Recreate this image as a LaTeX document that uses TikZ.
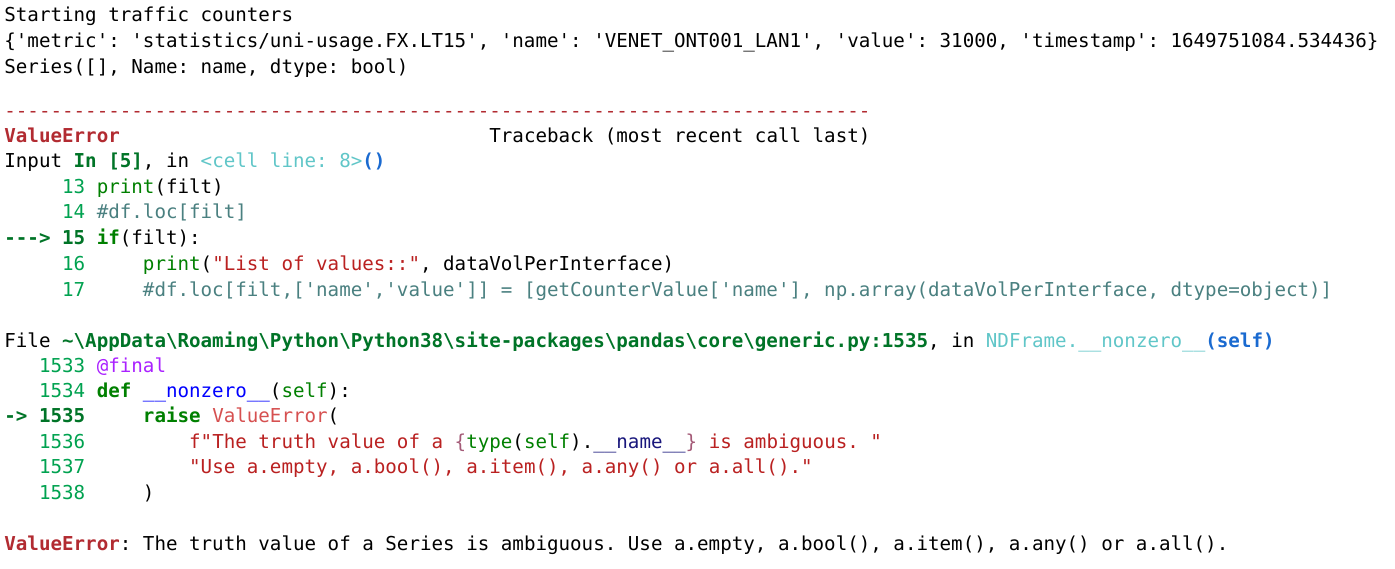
\documentclass[tikz,border=0pt]{standalone}
\usepackage{fontspec}
\setmonofont{DejaVu Sans Mono}
\usepackage{xcolor}
\usepackage{tikz}

\definecolor{errred}{HTML}{B22B31}
\definecolor{numgreen}{HTML}{00A250}
\definecolor{curgreen}{HTML}{007427}
\definecolor{kwgreen}{HTML}{008000}
\definecolor{cmtgray}{HTML}{4A8080}
\definecolor{strred}{HTML}{BA2121}
\definecolor{cellcyan}{HTML}{60C6C8}
\definecolor{callblue}{HTML}{1A6AD0}
\definecolor{fnblue}{HTML}{0000FF}
\definecolor{magicblue}{HTML}{19177C}
\definecolor{decopurple}{HTML}{AA22FF}
\definecolor{excred}{HTML}{D65050}
\definecolor{interp}{HTML}{A45A77}

\newcommand\sk[1]{\hspace*{#1\fontcharwd\font`x}}
\newcommand\er[1]{\textcolor{errred}{\bfseries #1}}
\newcommand\cg[1]{\textcolor{curgreen}{\bfseries #1}}
\newcommand\lnum[1]{\textcolor{numgreen}{#1}}
\newcommand\kw[1]{\textcolor{kwgreen}{\bfseries #1}}
\newcommand\bi[1]{\textcolor{kwgreen}{#1}}
\newcommand\cmt[1]{\textcolor{cmtgray}{#1}}
\newcommand\strg[1]{\textcolor{strred}{#1}}
\newcommand\cyn[1]{\textcolor{cellcyan}{#1}}
\newcommand\blu[1]{\textcolor{callblue}{\bfseries #1}}

\begin{document}
\begin{tikzpicture}[x=0.5pt, y=-0.5pt,
    txt/.style={anchor=base west, inner sep=0pt, font=\ttfamily\fontsize{9.59}{11}\selectfont}]
    \useasboundingbox [fill=white] (0,0) rectangle (1395,568);

    % printed output
    \node (start) [txt] at (4,21) {Starting traffic counters};
    \node (dict) [txt] at (4,47) {\{'metric': 'statistics/uni-usage.FX.LT15', 'name': 'VENET\_ONT001\_LAN1', 'value': 31000, 'timestamp': 1649751084.534436\}};
    \node (series) [txt] at (4,73) {Series([], Name: name, dtype: bool)};

    % traceback
    \node (rule) [txt] at (4,117) {\textcolor{errred}{---------------------------------------------------------------------------}};
    \node (head) [txt] at (4,142) {\er{ValueError}\sk{32}Traceback (most recent call last)};
    \node (input) [txt] at (4,167) {Input \cg{In [5]}, in \cyn{<cell line: 8>}\blu{()}};
    \node (c13) [txt] at (4,193) {\sk{5}\lnum{13} \bi{print}(filt)};
    \node (c14) [txt] at (4,218) {\sk{5}\lnum{14} \cmt{\#df.loc[filt]}};
    \node (c15) [txt] at (4,244) {\cg{--->} \cg{15} \kw{if}(filt):};
    \node (c16) [txt] at (4,270) {\sk{5}\lnum{16}\sk{5}\bi{print}(\strg{"List of values::"}, dataVolPerInterface)};
    \node (c17) [txt] at (4,296) {\sk{5}\lnum{17}\sk{5}\cmt{\#df.loc[filt,['name','value']] = [getCounterValue['name'], np.array(dataVolPerInterface, dtype=object)]}};

    \node (file) [txt] at (4,347) {File \cg{\textasciitilde\textbackslash AppData\textbackslash Roaming\textbackslash Python\textbackslash Python38\textbackslash site-packages\textbackslash pandas\textbackslash core\textbackslash generic.py:1535}, in \cyn{NDFrame.\_\_nonzero\_\_}\blu{(self)}};
    \node (g1533) [txt] at (4,372) {\sk{3}\lnum{1533} \textcolor{decopurple}{@final}};
    \node (g1534) [txt] at (4,397) {\sk{3}\lnum{1534} \kw{def} \textcolor{fnblue}{\_\_nonzero\_\_}(\bi{self}):};
    \node (g1535) [txt] at (4,422) {\cg{->} \cg{1535}\sk{5}\kw{raise} \textcolor{excred}{ValueError}(};
    \node (g1536) [txt] at (4,448) {\sk{3}\lnum{1536}\sk{9}\strg{f"The truth value of a }\textcolor{interp}{\{}\bi{type}(\bi{self}).\textcolor{magicblue}{\_\_name\_\_}\textcolor{interp}{\}}\strg{\sk{1}is ambiguous. "}};
    \node (g1537) [txt] at (4,473) {\sk{3}\lnum{1537}\sk{9}\strg{"Use a.empty, a.bool(), a.item(), a.any() or a.all()."}};
    \node (g1538) [txt] at (4,499) {\sk{3}\lnum{1538}\sk{5})};

    \node (final) [txt] at (4,550) {\er{ValueError}: The truth value of a Series is ambiguous. Use a.empty, a.bool(), a.item(), a.any() or a.all().};
\end{tikzpicture}
\end{document}
